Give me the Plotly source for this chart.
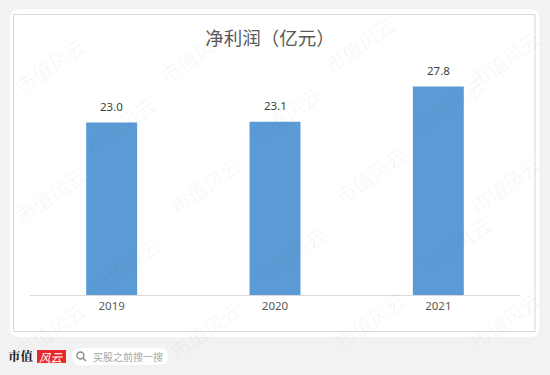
import plotly.graph_objects as go

categories = ["2019", "2020", "2021"]
values = [23.0, 23.1, 27.8]
labels = ["23.0", "23.1", "27.8"]
title_text = "净利润（亿元）"

W, H = 550, 375
L, R, T, B = 30, 29.5, 70, 80
PW, PH = W - L - R, H - T - B

def px(x):
    return (x - L) / PW

def py(y):
    return (H - B - y) / PH

def rrect(x0, y0, x1, y1, r):
    a, b = px(x0), px(x1)
    c, d = py(y0), py(y1)
    rx, ry = r / PW, r / PH
    return ("M {x0r},{c} L {x1r},{c} Q {b},{c} {b},{cr} L {b},{dr} Q {b},{d} {x1r},{d} "
            "L {x0r},{d} Q {a},{d} {a},{dr} L {a},{cr} Q {a},{c} {x0r},{c} Z").format(
        x0r=a + rx, x1r=b - rx, a=a, b=b, c=c, d=d, cr=c - ry, dr=d + ry)

fig = go.Figure()
fig.add_trace(go.Bar(
    x=categories, y=values,
    marker=dict(color="#5b9bd5", line=dict(width=0)),
    hoverinfo="skip",
))

shapes = []
# white card
shapes.append(dict(type="path", xref="paper", yref="paper", path=rrect(10, 9, 540, 337, 10),
                   fillcolor="white", line=dict(width=0), layer="below"))
# chart border
shapes.append(dict(type="rect", xref="paper", yref="paper",
                   x0=px(13.5), x1=px(535.5), y0=py(331.5), y1=py(14.5),
                   fillcolor="rgba(0,0,0,0)", line=dict(color="#d9d9d9", width=1), layer="below"))
# search pill
shapes.append(dict(type="path", xref="paper", yref="paper", path=rrect(72, 348, 168, 365, 8.5),
                   fillcolor="white", line=dict(width=0)))
# magnifier
shapes.append(dict(type="circle", xref="paper", yref="paper",
                   x0=px(77), x1=px(84), y0=py(359), y1=py(352),
                   line=dict(color="#8c8c8c", width=1.4)))
shapes.append(dict(type="line", xref="paper", yref="paper",
                   x0=px(83), x1=px(86), y0=py(358), y1=py(361),
                   line=dict(color="#8c8c8c", width=1.6)))
# logo red box
shapes.append(dict(type="rect", xref="paper", yref="paper",
                   x0=px(37), x1=px(66), y0=py(363), y1=py(350),
                   fillcolor="#e8262b", line=dict(width=0)))

annotations = []
# watermarks
wm = [(50, 65), (195, 55), (360, 45), (505, 60),
      (120, 125), (285, 115), (450, 105),
      (50, 195), (205, 185), (370, 175), (505, 185),
      (125, 265), (290, 255), (455, 245),
      (50, 330), (205, 330), (370, 320), (505, 320)]
for (x, y) in wm:
    annotations.append(dict(text="市值风云", xref="paper", yref="paper",
                            x=px(x), y=py(y), xanchor="center", yanchor="middle",
                            showarrow=False, textangle=-35,
                            font=dict(size=20, color="rgba(0,0,0,0.045)", family="Noto Sans CJK SC")))
# value labels (category index positions on the category axis)
for i, (v, t) in enumerate(zip(values, labels)):
    annotations.append(dict(text=t, x=i, y=v, xref="x", yref="y", yshift=16,
                            xanchor="center", yanchor="middle", showarrow=False,
                            font=dict(size=11.5, color="#404040", family="Noto Sans")))
annotations.append(dict(text="<b>市值</b>", xref="paper", yref="paper", x=px(36.5), y=py(356),
                        xanchor="right", yanchor="middle", showarrow=False,
                        font=dict(size=12.5, color="#1a1a1a", family="Noto Serif CJK SC, Noto Sans CJK SC")))
annotations.append(dict(text="<i>风云</i>", xref="paper", yref="paper", x=px(51.5), y=py(356.5),
                        xanchor="center", yanchor="middle", showarrow=False,
                        font=dict(size=11.5, color="white", family="Noto Sans CJK SC")))
annotations.append(dict(text="买股之前搜一搜", xref="paper", yref="paper", x=px(91), y=py(356.5),
                        xanchor="left", yanchor="middle", showarrow=False,
                        font=dict(size=10, color="#a6a6a6", family="Noto Sans CJK SC")))

fig.update_layout(
    width=W, height=H,
    margin=dict(l=L, r=R, t=T, b=B),
    paper_bgcolor="#f2f2f2", plot_bgcolor="rgba(0,0,0,0)",
    bargap=0.688, showlegend=False,
    title=dict(text=title_text, x=270 / W, xanchor="center", y=1 - 39 / H, yanchor="middle",
               font=dict(size=18.5, color="#595959", family="Noto Sans CJK SC")),
    xaxis=dict(type="category", range=[-0.5, len(categories) - 0.5],
               showline=True, linecolor="#d9d9d9", linewidth=1, ticks="",
               tickfont=dict(size=11.5, color="#595959", family="Noto Sans"),
               showgrid=False, fixedrange=True),
    yaxis=dict(range=[0, 30], visible=False, showgrid=False, fixedrange=True),
    shapes=shapes, annotations=annotations,
)
fig.write_html("out.html", post_script="document.body.style.margin='0';document.body.style.overflow='hidden';",
               config={"displayModeBar": False})
